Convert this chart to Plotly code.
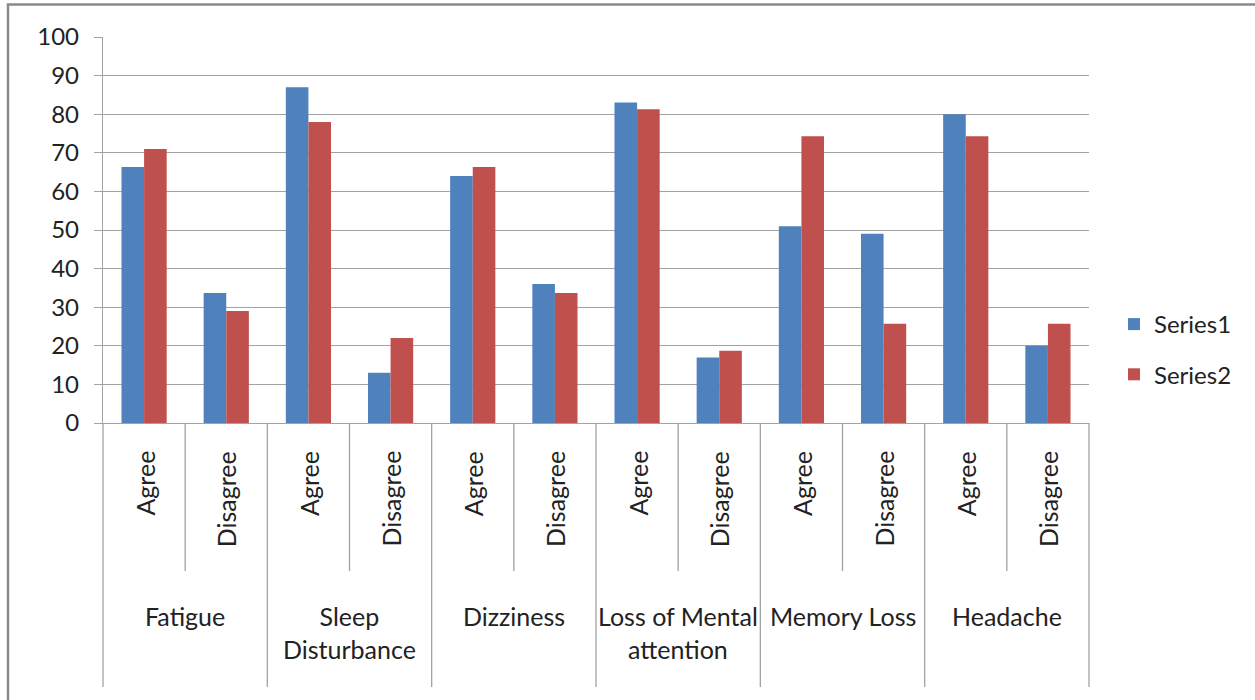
import plotly.graph_objects as go

# ---- data -------------------------------------------------------------
symptoms = ["Fatigue", "Sleep<br>Disturbance", "Dizziness",
            "Loss of Mental<br>attention", "Memory Loss", "Headache"]
responses = ["Agree", "Disagree"]
series1 = [66.3, 33.7, 87.0, 13.0, 64.0, 36.0, 83.0, 17.0, 51.0, 49.0, 80.0, 20.0]
series2 = [71.0, 29.0, 78.0, 22.0, 66.3, 33.7, 81.3, 18.7, 74.3, 25.7, 74.3, 25.7]
y_ticks = list(range(0, 101, 10))

# one category per (symptom, response) pair
categories = [f"{s.replace('<br>', ' ')} | {r}" for s in symptoms for r in responses]

# ---- geometry -----------------------------------------------------------
W, H = 1255, 700
PL, PR, PT, PB = 103, 1089, 37, 423          # plot area in pixels
FONT = "Lato"
GRID = "#a3a3a3"
TXT = "#222222"


def xp(px):
    return (px - PL) / (PR - PL)


def yp(py):
    return (PB - py) / (PB - PT)


n_cat = len(categories)

fig = go.Figure()
fig.add_trace(go.Bar(x=categories, y=series1, name="Series1",
                     marker=dict(color="#4F81BD", line=dict(width=0)),
                     legendgroup="s1"))
fig.add_trace(go.Bar(x=categories, y=series2, name="Series2",
                     marker=dict(color="#C0504D", line=dict(width=0)),
                     legendgroup="s2"))

shapes = []
annotations = []

# divider lines under the axis: short ones between responses, long ones between symptoms
for k in range(n_cat + 1):
    x = k / n_cat
    bottom = 687 if k % 2 == 0 else 571
    shapes.append(dict(type="line", xref="paper", yref="paper",
                       x0=x, x1=x, y0=0, y1=yp(bottom),
                       line=dict(color=GRID, width=1.3)))

# rotated response labels
for i, cat in enumerate(categories):
    annotations.append(dict(xref="paper", yref="paper",
                            x=(i + 0.5) / n_cat, y=yp(449),
                            text=responses[i % 2], textangle=-90,
                            xanchor="center", yanchor="top", showarrow=False,
                            font=dict(family=FONT, size=25, color=TXT)))

# symptom group labels
for g, name in enumerate(symptoms):
    annotations.append(dict(xref="paper", yref="paper",
                            x=(2 * g + 1) / n_cat, y=yp(599),
                            text=name, xanchor="center", yanchor="top",
                            showarrow=False, align="center",
                            font=dict(family=FONT, size=25, color=TXT)))

# chart frame (left and top edges)
shapes.append(dict(type="path", xref="paper", yref="paper",
                   path=f"M {xp(8)} {yp(720)} L {xp(8)} {yp(4.5)} L {xp(1280)} {yp(4.5)}",
                   line=dict(color="#8a8a8a", width=2.5)))

fig.update_layout(
    width=W, height=H,
    margin=dict(l=PL, r=W - PR, t=PT, b=H - PB, pad=0),
    paper_bgcolor="white", plot_bgcolor="white",
    bargap=0.45, bargroupgap=0,
    font=dict(family=FONT, size=24, color=TXT),
    xaxis=dict(type="category", range=[-0.5, n_cat - 0.5],
               showticklabels=False, ticks="", showgrid=False,
               showline=True, linecolor=GRID, linewidth=1.3, zeroline=False),
    yaxis=dict(range=[0, 100], tickvals=y_ticks, ticks="outside", ticklen=8,
               tickcolor=GRID, tickwidth=1.3, showline=True, linecolor=GRID,
               linewidth=1.3, showgrid=True, gridcolor=GRID, gridwidth=1.3,
               zeroline=False, ticklabelstandoff=10,
               tickfont=dict(family=FONT, size=24, color=TXT)),
    legend=dict(xref="container", yref="container", x=1114 / W, y=1 - 302 / H,
                xanchor="left", yanchor="top", tracegroupgap=16,
                font=dict(family=FONT, size=24, color=TXT),
                bgcolor="rgba(0,0,0,0)"),
    shapes=shapes,
    annotations=annotations,
)

fig.write_html("out.html")
